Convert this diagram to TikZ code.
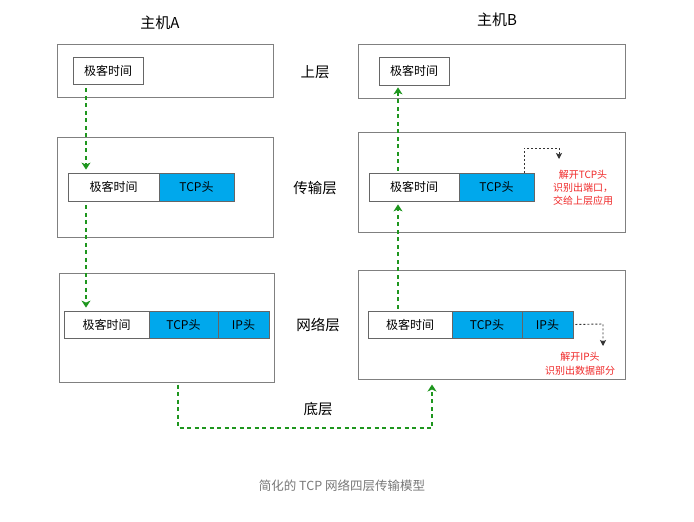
\documentclass[tikz,border=0pt]{standalone}
\usepackage{fontspec}
\newfontfamily\cjk{Noto Sans CJK SC}
\usetikzlibrary{arrows.meta,calc}
\definecolor{boxgray}{RGB}{128,128,128}
\definecolor{tcpblue}{RGB}{0,168,236}
\definecolor{arrgreen}{RGB}{30,150,30}
\definecolor{notered}{RGB}{240,40,40}
\definecolor{capgray}{RGB}{120,120,120}
\begin{document}
\begin{tikzpicture}[x=1pt,y=-1pt,
  outer/.style={draw=boxgray,line width=1pt,rectangle,inner sep=0pt},
  inner/.style={draw=boxgray!80!black,line width=0.8pt,rectangle,inner sep=0pt,minimum height=28pt,font=\cjk\fontsize{12}{13}\selectfont},
  blue/.style={inner,fill=tcpblue},
  title/.style={font=\cjk\fontsize{15}{17}\selectfont},
  layer/.style={font=\cjk\fontsize{14.5}{16}\selectfont},
  note/.style={font=\cjk\fontsize{10}{11}\selectfont,text=notered},
  garrow/.style={draw=arrgreen,line width=1.7pt,dash pattern=on 4pt off 3.5pt,-{Stealth[length=7pt,width=9pt,inset=2pt]}},
  barrow/.style={draw=black!80,line width=0.9pt,dash pattern=on 2pt off 2pt,-{Stealth[length=6pt,width=6pt,inset=1.5pt]}}
]
\useasboundingbox (0,0) rectangle (694,522);
\fill[white] (0,0) rectangle (694,522);

\node[title] (hA) at (160,23) {主机A};
\node[title] (hB) at (497,20) {主机B};

% outer boxes
\node[outer,minimum width=216pt,minimum height=53pt] (A1) at (165,70.5) {};
\node[outer,minimum width=267pt,minimum height=54pt] (B1) at (491.5,71) {};
\node[outer,minimum width=216pt,minimum height=100pt] (A2) at (165,187) {};
\node[outer,minimum width=267pt,minimum height=100pt] (B2) at (491.5,182) {};
\node[outer,minimum width=215pt,minimum height=109pt] (A3) at (166.5,327.5) {};
\node[outer,minimum width=267pt,minimum height=109pt] (B3) at (491.5,324.5) {};

% layer labels
\node[layer] (l1) at (315,72) {上层};
\node[layer] (l2) at (315,188) {传输层};
\node[layer] (l3) at (318,325) {网络层};
\node[layer] (l4) at (318,409) {底层};

% inner packets
\node[inner,minimum width=70pt,minimum height=27pt] (a1) at (108,70.5) {极客时间};
\node[inner,minimum width=70pt] (b1) at (414,71) {极客时间};

\node[inner,minimum width=91pt] (a2d) at (113.5,187) {极客时间};
\node[blue,minimum width=75pt] (a2t) at (196.5,187) {TCP头};
\node[inner,minimum width=90pt] (b2d) at (414,187) {极客时间};
\node[blue,minimum width=75pt] (b2t) at (496.5,187) {TCP头};

\node[inner,minimum width=85pt,minimum height=27pt] (a3d) at (106.5,324.5) {极客时间};
\node[blue,minimum width=69pt,minimum height=27pt] (a3t) at (183.5,324.5) {TCP头};
\node[blue,minimum width=51pt,minimum height=27pt] (a3i) at (243.5,324.5) {IP头};
\node[inner,minimum width=84pt,minimum height=27pt] (b3d) at (410,324.5) {极客时间};
\node[blue,minimum width=70pt,minimum height=27pt] (b3t) at (487,324.5) {TCP头};
\node[blue,minimum width=51pt,minimum height=27pt] (b3i) at (547.5,324.5) {IP头};

% notes
\node[note,align=center] (n1) at (583,188) {解开TCP头\\[2pt]识别出端口，\\[2pt]交给上层应用};
\node[note,align=center] (n2) at (580,364) {解开IP头\\[3pt]识别出数据部分};

% helper coordinates
\coordinate (xA) at (86,0);
\coordinate (xB) at (398,0);
\coordinate (xbl) at (178,0);
\coordinate (xbr) at (432,0);
\coordinate (yb) at (0,428);
\coordinate (xt) at (524,0);
\coordinate (tcptop) at (524,148);
\coordinate (tcpend) at (559,159);
\coordinate (iptop) at (603,324);
\coordinate (ipend) at (603,346);

% green arrows host A
\draw[garrow,shorten <=4pt,shorten >=3pt] (a1.south -| xA) -- (a2d.north -| xA);
\draw[garrow,shorten <=4pt,shorten >=3pt] (a2d.south -| xA) -- (a3d.north -| xA);
% green arrows host B
\draw[garrow,shorten <=2pt,shorten >=3pt] (b3d.north -| xB) -- (b2d.south -| xB);
\draw[garrow,shorten <=2pt,shorten >=2pt] (b2d.north -| xB) -- (b1.south -| xB);
% bottom route
\draw[garrow,shorten <=2pt,shorten >=5pt] (A3.south -| xbl) -- (yb -| xbl) -- (yb -| xbr) -- (B3.south -| xbr);

% black dotted
\draw[barrow] (b2t.north -| xt) -- (tcptop) -| (tcpend);
\draw[barrow,shorten <=2pt] (b3i.east) -- (iptop) -- (ipend);

% caption
\node[font=\cjk\fontsize{12.5}{14}\selectfont,text=capgray] (cap) at (342,486) {简化的 TCP 网络四层传输模型};
\end{tikzpicture}
\end{document}
